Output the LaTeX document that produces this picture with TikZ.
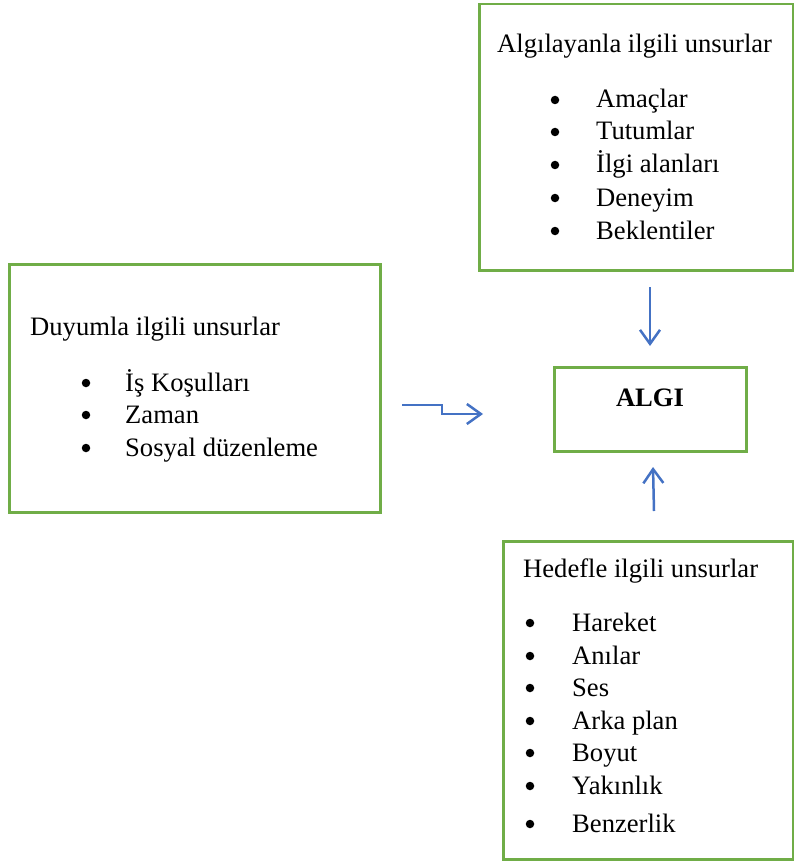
\documentclass[tikz,border=0pt]{standalone}
\usepackage{fontspec}
\setmainfont{Liberation Serif}
\usetikzlibrary{arrows.meta}
\definecolor{boxgreen}{RGB}{112,173,71}
\definecolor{arrowblue}{RGB}{68,114,196}
\tikzset{
  box/.style={draw=boxgreen, line width=2.5pt, rectangle, inner sep=0pt, anchor=north west},
  txt/.style={anchor=base west, inner sep=0pt, font=\fontsize{26.6pt}{32pt}\selectfont},
  bul/.style={circle, fill=black, inner sep=0pt, minimum size=8.5pt},
  conn/.style={draw=arrowblue, line width=2.5pt, -{Straight Barb[length=14pt,width=20pt,line width=2.5pt]}}
}
\begin{document}
\begin{tikzpicture}[x=1pt,y=-1pt]
\useasboundingbox (0,0) rectangle (793,861);
% boxes
\node[box, minimum width=314pt, minimum height=266pt] (tbox) at (478,3) {};
\node[box, minimum width=371pt, minimum height=248pt] (lbox) at (8,263) {};
\node[box, minimum width=192pt, minimum height=84pt] (abox) at (553,366) {};
\node[box, minimum width=290pt, minimum height=318pt] (bbox) at (502,540) {};
% ALGI
\node[anchor=center, inner sep=0pt, font=\fontsize{26.6pt}{32pt}\selectfont\bfseries] (algi) at (650,398) {ALGI};
% top box text
\node[txt] (t0) at (497,53) {Algılayanla ilgili unsurlar};
\foreach \y/\t [count=\i] in {108/Amaçlar,140/Tutumlar,173/İlgi alanları,206/Deneyim,239/Beklentiler}{
  \node[bul] (tb\i) at (555,\y-8) {};
  \node[txt] (ti\i) at (596,\y) {\t};
}
% left box text
\node[txt] (l0) at (30,335) {Duyumla ilgili unsurlar};
\foreach \y/\t [count=\i] in {391/İş Koşulları,423/Zaman,456/Sosyal düzenleme}{
  \node[bul] (lb\i) at (86,\y-8) {};
  \node[txt] (li\i) at (125,\y) {\t};
}
% bottom box text
\node[txt] (b0) at (523,577) {Hedefle ilgili unsurlar};
\foreach \y/\t [count=\i] in {631/Hareket,664/Anılar,696/Ses,729/Arka plan,761/Boyut,794/Yakınlık,832/Benzerlik}{
  \node[bul] (bb\i) at (530,\y-8) {};
  \node[txt] (bi\i) at (572,\y) {\t};
}
% connectors
\coordinate (la) at (402,405);
\coordinate (lb) at (483,414);
\coordinate (da) at (650,287);
\coordinate (db) at (650,346);
\coordinate (ua) at (654,511);
\coordinate (ub) at (653,467);
\draw[conn] (la) -- (442,405) -- (442,414) -- (lb);
\draw[conn] (da) -- (db);
\draw[conn] (ua) -- (ub);
\end{tikzpicture}
\end{document}
